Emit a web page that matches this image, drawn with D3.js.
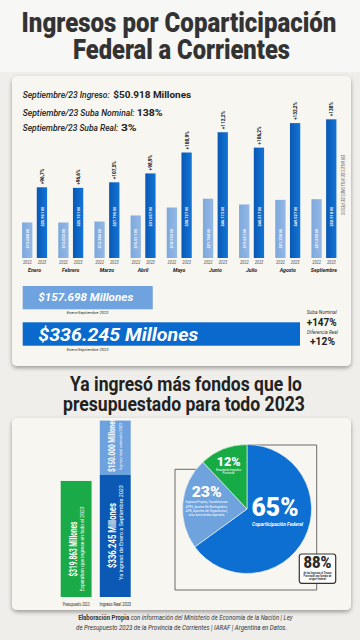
<!DOCTYPE html>
<html><head><meta charset="utf-8">
<script src="https://cdn.jsdelivr.net/npm/d3@7"></script>
<style>
html,body{margin:0;padding:0;background:#efeeea;}
svg{display:block;}
</style></head>
<body>
<svg id="c" width="360" height="640"></svg>
<script>
// ---------- DATA ----------
const months = ["Enero","Febrero","Marzo","Abril","Mayo","Junio","Julio","Agosto","Septiembre"];
const years = ["2022","2023"];
// millones de pesos
const values2022 = [13048, 13032, 13386, 15611, 18533, 21768, 19651, 21338, 21590];
const values2023 = [25961, 25751, 27795, 31057, 38727, 46173, 40517, 49527, 50918];
const pctLabels = ["+96,7%","+96,6%","+107,5%","+98,9%","+108,9%","+112,2%","+106,2%","+132,2%","+138%"];
const totalLabels = ["Enero-Septiembre 2022","Enero-Septiembre 2023"];
const totals = [157698, 336245];
const budgetCats = ["Presupuesto 2023","Ingreso Real 2023"];
const budgetValue = 319863;
const realValue = 336245;
const remainingValue = 150000;
const pieLabels = ["Coparticipación Federal","Otros ingresos","Recaudación Impositiva Provincial"];
const pieValues = [65, 23, 12];

// ---------- SETUP ----------
const svg = d3.select("#c");
const FF = "Roboto,'Open Sans',sans-serif";
const loc = d3.formatLocale({decimal:",", thousands:".", grouping:[3], currency:["$",""]});
const fmtN = loc.format(",d");

const defs = svg.append("defs");
const sh = defs.append("filter").attr("id","sh").attr("x","-10%").attr("y","-10%").attr("width","120%").attr("height","125%");
sh.append("feDropShadow").attr("dx",0).attr("dy",2).attr("stdDeviation",2.2).attr("flood-color","#000").attr("flood-opacity",0.35);
function grad(id, c1, c2){
  const g = defs.append("linearGradient").attr("id",id).attr("x1","0").attr("x2","1").attr("y1","0").attr("y2","0");
  g.append("stop").attr("offset","0").attr("stop-color",c1);
  g.append("stop").attr("offset","1").attr("stop-color",c2);
}
grad("g22","#7ea8dc","#93b8e6");
grad("g23","#0a58b4","#1275d6");

// text helper: o.tl = target width (fitted with a horizontal scale)
function T(parent, x, y, str, o={}){
  const t = parent.append("text")
    .attr("font-family", o.ff || FF)
    .attr("font-size", o.size || 8)
    .attr("font-weight", o.w || "normal")
    .attr("font-style", o.it ? "italic" : "normal")
    .attr("fill", o.fill || "#222")
    .attr("text-anchor", o.anchor || "start");
  if (str !== null) t.text(str);
  t.fit = function(){
    let sx = o.sx || 1;
    if (o.tl) { const len = t.node().getComputedTextLength(); if (len > 0) sx = o.tl/len; }
    t.attr("transform", `translate(${x},${y})` + (o.rot? ` rotate(${o.rot})`:"") + (sx!==1? ` scale(${sx},1)`:""));
    return t;
  };
  return t.fit();
}

svg.append("rect").attr("width",360).attr("height",640).attr("fill","#efeeea");
svg.append("rect").attr("width",360).attr("height",72).attr("fill","#f7f7f5");

// Title
T(svg, 179, 31.7, "Ingresos por Coparticipación", {size:27, w:900, fill:"#333", anchor:"middle", tl:315});
T(svg, 181.5, 59.3, "Federal a Corrientes", {size:27, w:900, fill:"#333", anchor:"middle", tl:217});

// Card 1
svg.append("rect").attr("x",12).attr("y",76).attr("width",339).attr("height",290).attr("rx",5)
  .attr("fill","#f7f6f1").attr("filter","url(#sh)");

// Info lines
const info = [["Septiembre/23 Ingreso:","$50.918 Millones",98.3,87,113.3,78],
              ["Septiembre/23 Suba Nominal:","138%",116,112,136.7,26],
              ["Septiembre/23 Suba Real:","3%",130.7,95.6,121,15.7]];
info.forEach(([a,b,y,tla,xb,tlb])=>{
  T(svg, 22.7, y, a, {size:8.6, it:true, w:500, fill:"#222", tl:tla});
  T(svg, xb, y, b, {size:9.6, w:"bold", fill:"#222", tl:tlb});
});

// ---------- BAR CHART ----------
const x0 = d3.scaleBand().domain(months).range([16.5,342]);
const x1 = d3.scaleBand().domain(years).range([-12.5,12.5]).paddingInner(0.3);
const y = d3.scaleLinear().domain([0,55000]).range([258,108.2]);
const fmt = v => "$" + fmtN(v) + " M";

const groups = svg.append("g").selectAll("g").data(months).join("g")
  .attr("transform", m => `translate(${x0(m)+x0.bandwidth()/2},0)`);

groups.each(function(m,i){
  const g = d3.select(this);
  const vals = [values2022[i], values2023[i]];
  years.forEach((yr,j)=>{
    const v = vals[j];
    const bx = x1(yr);
    g.append("rect").attr("x",bx).attr("y",y(v)).attr("width",x1.bandwidth()).attr("height",y(0)-y(v))
      .attr("fill", j? "url(#g23)":"url(#g22)");
    const cy = j ? 217 : 239;
    T(g, bx+x1.bandwidth()/2+1.6, cy, fmt(v), {rot:-90, anchor:"middle", size:4.4, w:"bold", fill:"#fff", sx:0.9});
    T(g, bx+x1.bandwidth()/2, 264, yr, {anchor:"middle", size:4.4, it:true, fill:"#555", sx:0.9});
  });
  T(g, x1("2023")+x1.bandwidth()/2+2, y(values2023[i])-3, pctLabels[i], {rot:-90, size:5.6, w:"bold", fill:"#111", sx:0.85});
  T(g, 0, 271.5, m, {anchor:"middle", size:5.8, w:"bold", it:true, fill:"#222", sx:0.9});
});

T(svg, 341, 155, "EN MILES DE MILLONES DE PESOS", {rot:90, size:4.4, it:true, fill:"#777", sx:0.9});

// ---------- TOTALS ----------
const xt = d3.scaleLinear().domain([0, totals[1]]).range([22.7, 300]);
const tb = [{v:totals[0], y:286, h:23.3, c:"#6fa3e0", fs:11.5, base:300.7, tl:95, cap:314, lab:totalLabels[0]},
            {v:totals[1], y:322.3, h:23.4, c:"#0a69cc", fs:19, base:341, tl:160, cap:350.7, lab:totalLabels[1]}];
tb.forEach(d=>{
  svg.append("rect").attr("x",xt(0)).attr("y",d.y).attr("width",xt(d.v)-xt(0)).attr("height",d.h).attr("fill",d.c);
  T(svg, 38.3, d.base, "$" + fmtN(d.v) + " Millones", {size:d.fs, w:"bold", it:true, fill:"#fff", tl:d.tl});
  T(svg, 66.7, d.cap, d.lab, {size:3.8, it:true, fill:"#333", tl:42});
});
T(svg, 321.7, 314.3, "Suba Nominal", {anchor:"middle", size:5, it:true, fill:"#333", tl:30});
T(svg, 321.7, 326, "+147%", {anchor:"middle", size:11, w:"bold", fill:"#222", tl:30});
T(svg, 322.5, 334.3, "Diferencia Real", {anchor:"middle", size:5, it:true, fill:"#333", tl:31});
T(svg, 322.5, 345, "+12%", {anchor:"middle", size:11, w:"bold", fill:"#222", tl:25});

// ---------- SECOND TITLE ----------
T(svg, 186, 391, "Ya ingresó más fondos que lo", {anchor:"middle", size:21, w:"bold", fill:"#222", tl:232});
T(svg, 184, 410.5, "presupuestado para todo 2023", {anchor:"middle", size:21, w:"bold", fill:"#222", tl:242});

// Card 2
svg.append("rect").attr("x",12).attr("y",418).attr("width",339).attr("height",192).attr("rx",5)
  .attr("fill","#f7f6f1").attr("filter","url(#sh)");

// ---------- BUDGET BARS ----------
const xb = d3.scaleBand().domain(budgetCats).range([60.7,130.7]).paddingInner(0.21).paddingOuter(0);
const yb = d3.scaleLinear().domain([0, realValue]).range([597, 475]);
const bw = xb.bandwidth();
const xg = xb(budgetCats[0]), xr = xb(budgetCats[1]);
svg.append("rect").attr("x",xg).attr("y",yb(budgetValue)).attr("width",bw).attr("height",yb(0)-yb(budgetValue)).attr("fill","#1aaa48");
svg.append("rect").attr("x",xr).attr("y",yb(realValue)).attr("width",bw).attr("height",yb(0)-yb(realValue)).attr("fill","#0b58b5");
svg.append("rect").attr("x",xr).attr("y",yb(realValue+remainingValue)).attr("width",bw)
  .attr("height",yb(realValue)-yb(realValue+remainingValue)).attr("fill","#6ea2de");

T(svg, 77, 549, "$" + fmtN(budgetValue) + " Millones", {rot:-90, anchor:"middle", size:10, w:"bold", fill:"#fff", tl:55});
T(svg, 83.5, 549, "Esperaban que ingrese en todo el 2023", {rot:-90, anchor:"middle", size:4.8, fill:"#fff", tl:85});
T(svg, 115.5, 535.5, "$" + fmtN(realValue) + " Millones", {rot:-90, anchor:"middle", size:11, w:"bold", fill:"#fff", tl:65});
T(svg, 123, 532.5, "Ya ingresó de Enero a Septiembre 2023", {rot:-90, anchor:"middle", size:5, fill:"#fff", tl:95});
T(svg, 114.5, 445, "$" + fmtN(remainingValue) + " Millones", {rot:-90, anchor:"middle", size:9.5, w:"bold", fill:"#fff", tl:54});
T(svg, 122, 446.5, "Ingreso total estimado 2023", {rot:-90, anchor:"middle", size:4.2, fill:"#fff", tl:47});

T(svg, xg+bw/2, 606, budgetCats[0], {anchor:"middle", size:4.6, fill:"#333", tl:27});
T(svg, xr+bw/2, 606, budgetCats[1], {anchor:"middle", size:4.6, fill:"#333", tl:31.7});

// ---------- PIE ----------
const pcx = 247, pcy = 509, pr = 64.5;
svg.append("path").attr("d","M247,445 H316.7 V590 H175 V469.3 H204").attr("fill","none").attr("stroke","#6a6a6a").attr("stroke-width",1);
const pie = d3.pie().sort(null).value(d=>d)(pieValues);
const arc = d3.arc().innerRadius(0).outerRadius(pr);
const pieColors = ["#0d6fd1","#6ea3de","#17ab46"];
const pg = svg.append("g").attr("transform",`translate(${pcx},${pcy})`);
pg.selectAll("path").data(pie).join("path").attr("d",arc).attr("fill",(d,i)=>pieColors[i])
  .attr("stroke","#f7f6f1").attr("stroke-width",0.6);

T(svg, 275, 516, pieValues[0]+"%", {anchor:"middle", size:26, w:900, fill:"#fff", tl:47});
T(svg, 277.5, 526, pieLabels[0], {anchor:"middle", size:5.6, w:"bold", it:true, fill:"#fff", tl:51});
T(svg, 206.7, 497, pieValues[1]+"%", {anchor:"middle", size:15, w:900, fill:"#fff", tl:30});
["Ingresos Propios, Transferencias","APIFS, Aportes No Reintegrables,","ATN, Aportes de Organismos,","otros como fondos especiales"].forEach((s,i)=>{
  T(svg, 206.5, 503.4+i*4.3, s, {anchor:"middle", size:3.4, fill:"#fff", tl: i===3 ? 36 : 42});
});
T(svg, 228.7, 466, pieValues[2]+"%", {anchor:"middle", size:12.5, w:900, fill:"#fff", tl:24});
["Recaudación Impositiva","Provincial"].forEach((s,i)=>{
  T(svg, 228.5, 470.8+i*3.6, s, {anchor:"middle", size:2.9, fill:"#fff", tl: i? 12 : 25});
});

// 88% box
svg.append("rect").attr("x",299.3).attr("y",554).attr("width",36.4).attr("height",29.3).attr("rx",2.5)
  .attr("fill","#fff").attr("stroke","#333").attr("stroke-width",1.2);
T(svg, 317.5, 567.5, "88%", {anchor:"middle", size:16, w:900, fill:"#2a2a2a", tl:28});
["de los Ingresos al Tesoro","Provincial son fondos de","origen federal"].forEach((s,i)=>{
  T(svg, 317.5, 573.8+i*3.2, s, {anchor:"middle", size:2.8, w:"bold", fill:"#333", tl: i===2 ? 17 : 28});
});

// ---------- FOOTER ----------
const f1 = T(svg, 185.3, 620, null, {anchor:"middle", size:6.3, fill:"#333", tl:215});
f1.append("tspan").attr("font-weight","bold").text("Elaboración Propia ");
f1.append("tspan").attr("font-style","italic").text("con información del Ministerio de Economía de la Nación | Ley");
f1.fit();
T(svg, 181.5, 629.5, "de Presupuesto 2023 de la Provincia de Corrientes | IARAF | Argentina en Datos.", {anchor:"middle", size:6.3, it:true, fill:"#333", tl:211});
</script>
</body></html>
